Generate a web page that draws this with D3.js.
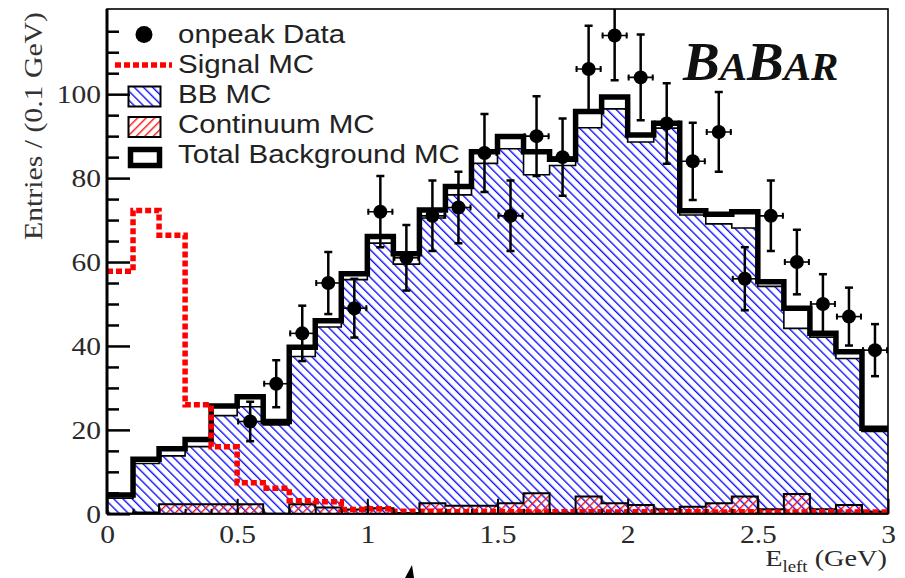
<!DOCTYPE html>
<html>
<head>
<meta charset="utf-8">
<script src="https://cdn.jsdelivr.net/npm/d3@7"></script>
<style>
  body { margin: 0; background: #fff; }
  svg { display: block; }
</style>
</head>
<body>
<svg id="chart" width="905" height="578"></svg>
<script>
// ---- histogram binning: 30 bins of 0.1 GeV in E_left ----
const binLow = [0.0, 0.1, 0.2, 0.3, 0.4, 0.5, 0.6, 0.7, 0.8, 0.9,
                1.0, 1.1, 1.2, 1.3, 1.4, 1.5, 1.6, 1.7, 1.8, 1.9,
                2.0, 2.1, 2.2, 2.3, 2.4, 2.5, 2.6, 2.7, 2.8, 2.9];
const binWidth = 0.1;

// on-peak data (no entries drawn below 0.5 GeV) and statistical errors
const dataCounts = [null, null, null, null, null, 22, 31, 43, 55, 49,
                    72, 61, 71, 73, 86, 71, 90, 85, 106, 114,
                    104, 93, 84, 91, 56, 71, 60, 50, 47, 39];
const dataErrors = [null, null, null, null, null, 4.7, 5.6, 6.6, 7.4, 7.0,
                    8.5, 7.8, 8.4, 8.5, 9.3, 8.4, 9.5, 9.2, 10.3, 10.7,
                    10.2, 9.6, 9.2, 9.5, 7.5, 8.4, 7.7, 7.1, 6.9, 6.2];

// Monte Carlo histograms
const signalMC = [57.8, 72.3, 66.4, 26.0, 16.0, 7.4, 6.1, 3.1, 2.9, 1.0,
                  1.2, 0.6, 0.6, 0.5, 0.5, 0.5, 0.4, 0.5, 0.5, 0.4,
                  0.5, 0.4, 0.5, 0.4, 0.5, 0.4, 0.4, 0.5, 0.4, 0.4];
const bbMC = [3.7, 12.0, 13.8, 16.0, 23.4, 25.5, 21.2, 37.5, 44.5, 55.8,
              64.5, 59.5, 70.5, 76.0, 83.5, 87.0, 80.8, 83.0, 92.0, 96.5,
              88.6, 91.9, 71.2, 69.1, 68.1, 54.2, 44.2, 42.1, 37.0, 19.6];
const continuumMC = [0.0, 0.3, 2.3, 2.3, 2.3, 2.3, 0.0, 2.3, 1.5, 1.0,
                     1.3, 0.2, 2.5, 1.9, 1.9, 2.5, 4.9, 0.1, 4.1, 2.5,
                     2.1, 1.1, 1.7, 2.5, 4.1, 1.1, 4.7, 1.1, 2.1, 0.5];
const totalBkgMC = [4.5, 13.0, 15.5, 17.7, 25.7, 27.9, 22.0, 39.7, 46.0, 57.2,
                    66.1, 62.0, 72.4, 78.0, 86.3, 89.9, 86.3, 84.5, 95.9, 99.3,
                    90.3, 93.1, 72.2, 71.4, 72.0, 55.3, 49.0, 43.0, 38.6, 20.4];

// axis ticks and labels
const xMajorTicks = [0, 0.5, 1, 1.5, 2, 2.5, 3];
const xTickLabels = ["0", "0.5", "1", "1.5", "2", "2.5", "3"];
const xMinorTicks = binLow.slice(1);
const yMajorTicks = [0, 20, 40, 60, 80, 100];
const yTickLabels = ["0", "20", "40", "60", "80", "100"];
const yMinorTicks = [5, 10, 15, 25, 30, 35, 45, 50, 55, 65, 70, 75, 85, 90, 95, 105, 110, 115];

const legendLabels = ["onpeak Data", "Signal MC", "BB MC", "Continuum MC", "Total Background MC"];

// ---- layout ----
const svg = d3.select("#chart");
const frame = { left: 107, right: 888, top: 9, bottom: 513.8 };
const x = d3.scaleLinear().domain([0, 3]).range([frame.left, frame.right]);
const y = d3.scaleLinear().domain([0, 120.3]).range([frame.bottom, frame.top]);
const stretch = 1.18;   // wide glyph rendering of the axis/legend fonts

const defs = svg.append("defs");
defs.append("clipPath").attr("id", "plotClip")
  .append("rect")
  .attr("x", frame.left).attr("y", frame.top)
  .attr("width", frame.right - frame.left).attr("height", frame.bottom - frame.top);

const blueHatch = defs.append("pattern").attr("id", "hatchBlue")
  .attr("patternUnits", "userSpaceOnUse").attr("width", 6.5).attr("height", 6.5)
  .attr("patternTransform", "rotate(-45)");
blueHatch.append("rect").attr("x", 0).attr("y", 0).attr("width", 1.4).attr("height", 6.5).attr("fill", "#1010ff");

const redHatch = defs.append("pattern").attr("id", "hatchRed")
  .attr("patternUnits", "userSpaceOnUse").attr("width", 6).attr("height", 6)
  .attr("patternTransform", "rotate(45)");
redHatch.append("rect").attr("x", 0).attr("y", 0).attr("width", 1.4).attr("height", 6).attr("fill", "#ff1010");

// step outline of a histogram
function stepPoints(vals) {
  const pts = [];
  vals.forEach((v, i) => {
    pts.push([binLow[i], v]);
    pts.push([binLow[i] + binWidth, v]);
  });
  return pts;
}
const stepLine = d3.line().x(d => x(d[0])).y(d => y(d[1]));
const stepArea = d3.area().x(d => x(d[0])).y0(y(0)).y1(d => y(d[1]));

const plot = svg.append("g").attr("clip-path", "url(#plotClip)");

// BB MC: blue hatch with thin outline
plot.append("path").attr("d", stepArea(stepPoints(bbMC)))
  .attr("fill", "url(#hatchBlue)").attr("stroke", "none");
plot.append("path").attr("d", stepLine(stepPoints(bbMC)))
  .attr("fill", "none").attr("stroke", "#000").attr("stroke-width", 1.6);

// Continuum MC: red hatch with black outline
const contPts = [[0, 0], ...stepPoints(continuumMC), [3, 0]];
plot.append("path").attr("d", stepArea(stepPoints(continuumMC)))
  .attr("fill", "url(#hatchRed)").attr("stroke", "none");
plot.append("path").attr("d", stepLine(contPts))
  .attr("fill", "none").attr("stroke", "#000").attr("stroke-width", 2);

// Total background MC: thick black step line
plot.append("path").attr("d", stepLine(stepPoints(totalBkgMC)))
  .attr("fill", "none").attr("stroke", "#000").attr("stroke-width", 5.5)
  .attr("stroke-linejoin", "miter");

// Signal MC: thick red dotted step line
plot.append("path").attr("d", stepLine(stepPoints(signalMC)))
  .attr("fill", "none").attr("stroke", "#ff0000").attr("stroke-width", 5.5)
  .attr("stroke-dasharray", "6,3");

// on-peak data with error bars
const pts = binLow.map((lo, i) => ({ lo, v: dataCounts[i], e: dataErrors[i] }))
  .filter(d => d.v !== null);
const dg = plot.append("g").attr("stroke", "#000");
pts.forEach(d => {
  const cx = x(d.lo + binWidth / 2);
  const cy = y(d.v);
  const x0 = x(d.lo), x1 = x(d.lo + binWidth);
  const yTop = y(d.v + d.e), yBot = y(d.v - d.e);
  dg.append("line").attr("x1", cx).attr("x2", cx).attr("y1", yTop).attr("y2", yBot).attr("stroke-width", 2.5);
  dg.append("line").attr("x1", cx - 4).attr("x2", cx + 4).attr("y1", yTop).attr("y2", yTop).attr("stroke-width", 2.5);
  dg.append("line").attr("x1", cx - 4).attr("x2", cx + 4).attr("y1", yBot).attr("y2", yBot).attr("stroke-width", 2.5);
  dg.append("line").attr("x1", x0).attr("x2", x1).attr("y1", cy).attr("y2", cy).attr("stroke-width", 1.6);
  dg.append("line").attr("x1", x0 + 1).attr("x2", x0 + 1).attr("y1", cy - 3).attr("y2", cy + 3).attr("stroke-width", 2);
  dg.append("line").attr("x1", x1 - 1).attr("x2", x1 - 1).attr("y1", cy - 3).attr("y2", cy + 3).attr("stroke-width", 2);
  dg.append("circle").attr("cx", cx).attr("cy", cy).attr("r", 7).attr("fill", "#000").attr("stroke", "none");
});

// ---- frame and axes ----
svg.append("rect")
  .attr("x", frame.left).attr("y", frame.top)
  .attr("width", frame.right - frame.left).attr("height", frame.bottom - frame.top)
  .attr("fill", "none").attr("stroke", "#000").attr("stroke-width", 1.6);
svg.append("line").attr("x1", frame.left).attr("x2", frame.left)
  .attr("y1", frame.top).attr("y2", frame.bottom).attr("stroke", "#000").attr("stroke-width", 3);
svg.append("line").attr("x1", frame.left).attr("x2", frame.right)
  .attr("y1", frame.bottom).attr("y2", frame.bottom).attr("stroke", "#000").attr("stroke-width", 2);

function styleAxis(g, width) {
  g.select(".domain").remove();
  g.selectAll(".tick line").attr("stroke", "#000").attr("stroke-width", width);
}

const yMajor = svg.append("g").attr("transform", `translate(${frame.left},0)`)
  .call(d3.axisLeft(y).tickValues(yMajorTicks).tickSize(-23).tickPadding(6)
    .tickFormat((d, i) => yTickLabels[i]));
styleAxis(yMajor, 2.5);
yMajor.selectAll(".tick text")
  .attr("font-family", "'Liberation Serif', 'Times New Roman', serif")
  .attr("font-size", 25).attr("fill", "#2a2a2a")
  .attr("x", -6 / stretch).attr("dy", "0.33em")
  .attr("transform", `scale(${stretch},1)`);

const yMinor = svg.append("g").attr("transform", `translate(${frame.left},0)`)
  .call(d3.axisLeft(y).tickValues(yMinorTicks).tickSize(-12).tickFormat(""));
styleAxis(yMinor, 2.5);

const xMajor = svg.append("g").attr("transform", `translate(0,${frame.bottom})`)
  .call(d3.axisBottom(x).tickValues(xMajorTicks).tickSize(-15).tickPadding(11)
    .tickFormat((d, i) => xTickLabels[i]));
styleAxis(xMajor, 2);
xMajor.selectAll(".tick text")
  .attr("font-family", "'Liberation Serif', 'Times New Roman', serif")
  .attr("font-size", 25).attr("fill", "#2a2a2a")
  .attr("transform", `scale(${stretch},1)`);

const xMinor = svg.append("g").attr("transform", `translate(0,${frame.bottom})`)
  .call(d3.axisBottom(x).tickValues(xMinorTicks).tickSize(-5).tickFormat(""));
styleAxis(xMinor, 2);

// axis titles
const xTitle = svg.append("text")
  .attr("transform", `translate(${frame.right - 1},566) scale(${stretch},1)`)
  .attr("text-anchor", "end")
  .attr("font-family", "'Liberation Serif', 'Times New Roman', serif")
  .attr("font-size", 24).attr("fill", "#2a2a2a");
xTitle.append("tspan").text("E");
xTitle.append("tspan").attr("font-size", 16).attr("dy", 6).text("left");
xTitle.append("tspan").attr("dy", -6).text(" (GeV)");

svg.append("text")
  .attr("transform", "translate(42,126) rotate(-90)")
  .attr("text-anchor", "middle")
  .attr("font-family", "'Liberation Serif', 'Times New Roman', serif")
  .attr("font-size", 25).attr("fill", "#333")
  .attr("textLength", 228).attr("lengthAdjust", "spacingAndGlyphs")
  .text("Entries / (0.1 GeV)");

// ---- legend ----
const leg = svg.append("g");
const legText = (label, base) => leg.append("text")
  .attr("transform", `translate(178,${base}) scale(${stretch},1)`)
  .attr("font-family", "'Liberation Sans', Arial, sans-serif")
  .attr("font-size", 25).attr("fill", "#222").text(label);

leg.append("circle").attr("cx", 144).attr("cy", 34.5).attr("r", 8.5).attr("fill", "#000");
legText(legendLabels[0], 43);

leg.append("line").attr("x1", 115).attr("x2", 172).attr("y1", 65).attr("y2", 65)
  .attr("stroke", "#ff0000").attr("stroke-width", 5.5).attr("stroke-dasharray", "6,3");
legText(legendLabels[1], 73);

leg.append("rect").attr("x", 128.5).attr("y", 86.5).attr("width", 32).attr("height", 20)
  .attr("fill", "url(#hatchBlue)").attr("stroke", "#000").attr("stroke-width", 2);
legText(legendLabels[2], 103);

leg.append("rect").attr("x", 128.5).attr("y", 117).attr("width", 32).attr("height", 20)
  .attr("fill", "url(#hatchRed)").attr("stroke", "#000").attr("stroke-width", 2);
legText(legendLabels[3], 133);

leg.append("rect").attr("x", 130.5).attr("y", 149.5).attr("width", 29).attr("height", 16)
  .attr("fill", "#fff").attr("stroke", "#000").attr("stroke-width", 5.5);
legText(legendLabels[4], 163);

// ---- experiment logo ----
const logo = svg.append("text")
  .attr("x", 683).attr("y", 80)
  .attr("font-family", "'Liberation Serif', 'Times New Roman', serif")
  .attr("font-weight", "bold").attr("font-style", "italic").attr("fill", "#111");
logo.append("tspan").attr("font-size", 55).text("B");
logo.append("tspan").attr("font-size", 41).text("A");
logo.append("tspan").attr("font-size", 55).text("B");
logo.append("tspan").attr("font-size", 41).text("AR");

// small pointer mark below the axis
svg.append("path").attr("d", "M412,565 L405,578 L414,578 Z").attr("fill", "#000");
</script>
</body>
</html>
